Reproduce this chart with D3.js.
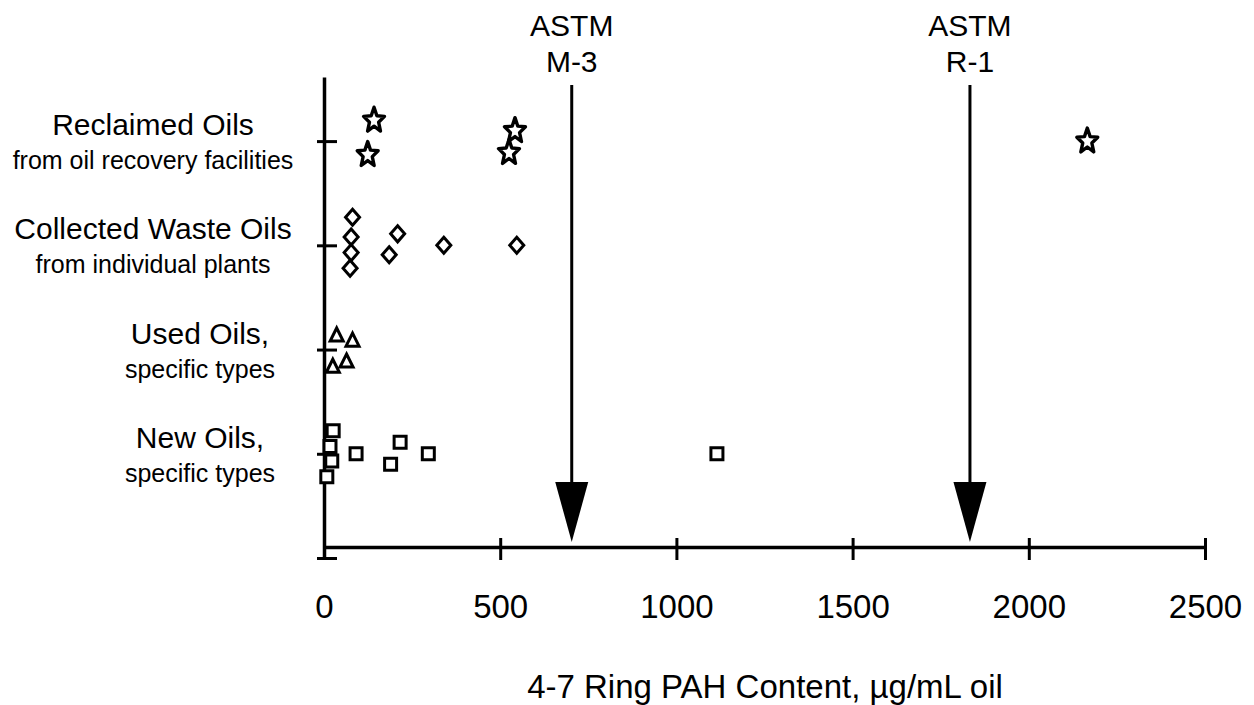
<!DOCTYPE html>
<html>
<head>
<meta charset="utf-8">
<script src="https://cdn.jsdelivr.net/npm/d3@7"></script>
<style>
body { margin: 0; background: #fff; }
text { font-family: "Liberation Sans", Arial, Helvetica, sans-serif; fill: #000; }
</style>
</head>
<body>
<div id="chart"></div>
<script>
// category rows (row 1 = bottom)
const groupRows  = [1, 2, 3, 4];
const groupNames = ["New Oils,", "Used Oils,", "Collected Waste Oils", "Reclaimed Oils"];
const groupNotes = ["specific types", "specific types", "from individual plants", "from oil recovery facilities"];

// PAH content (µg/mL) and row position of each sample
const newOilsPah    = [26, 17, 22, 8, 91, 216, 189, 296, 1115];
const newOilsRow    = [1.22, 1.07, 0.93, 0.78, 1.00, 1.11, 0.90, 1.00, 1.00];
const usedOilsPah   = [36, 81, 25, 64];
const usedOilsRow   = [2.14, 2.09, 1.84, 1.89];
const wasteOilsPah  = [81, 77, 77, 74, 209, 185, 340, 547];
const wasteOilsRow  = [3.27, 3.08, 2.93, 2.78, 3.11, 2.91, 3.00, 3.00];
const reclaimedPah  = [142, 124, 542, 525, 2166];
const reclaimedRow  = [4.21, 3.88, 4.11, 3.90, 4.01];

// ASTM reference levels
const astmNames  = ["M-3", "R-1"];
const astmValues = [703, 1833];

const xTicks = [0, 500, 1000, 1500, 2000, 2500];
const xTitle = "4-7 Ring PAH Content, µg/mL oil";

const width = 1254, height = 705;

let svg = d3.select('#chart').append('svg')
    .attr('width', width)
    .attr('height', height);

let x = d3.scaleLinear().domain([0, 2500]).range([324, 1205]);
let y = d3.scaleLinear().domain([0, 4.615]).range([558, 77]);

const axisY0 = 547;   // where the x axis sits

// custom marker shapes
const shapes = {
    square: { draw(ctx) { ctx.rect(-6, -6, 12, 12); } },
    diamond: { draw(ctx) {
        ctx.moveTo(0, -8); ctx.lineTo(7, 0); ctx.lineTo(0, 8); ctx.lineTo(-7, 0); ctx.closePath();
    } },
    triangle: { draw(ctx) {
        ctx.moveTo(0, -7); ctx.lineTo(6.5, 6); ctx.lineTo(-6.5, 6); ctx.closePath();
    } },
    star: { draw(ctx) {
        const R = 11, r = 4.8;
        for (let i = 0; i < 10; i++) {
            const a = -Math.PI / 2 + i * Math.PI / 5;
            const rr = i % 2 ? r : R;
            const px = rr * Math.cos(a), py = (rr * Math.sin(a) + 1) * 1.2;
            if (i === 0) ctx.moveTo(px, py); else ctx.lineTo(px, py);
        }
        ctx.closePath();
    } }
};

const series = [
    { pah: newOilsPah,   row: newOilsRow,   shape: 'square' },
    { pah: usedOilsPah,  row: usedOilsRow,  shape: 'triangle' },
    { pah: wasteOilsPah, row: wasteOilsRow, shape: 'diamond' },
    { pah: reclaimedPah, row: reclaimedRow, shape: 'star' }
];

// x axis
let xAxis = svg.append('g')
    .attr('transform', `translate(0,${axisY0})`)
    .call(d3.axisBottom(x).tickValues(xTicks).tickSizeOuter(0).tickFormat(d3.format('d')));
xAxis.select('.domain').attr('stroke', '#000').attr('stroke-width', 3.5);
xAxis.selectAll('.tick line').attr('stroke', '#000').attr('stroke-width', 3).attr('y1', -9).attr('y2', 13);
xAxis.selectAll('.tick text')
    .attr('y', 71).attr('dy', 0)
    .style('font-size', '33px')
    .style('font-family', '"Liberation Sans", Arial, sans-serif')
    .attr('fill', '#000');

// y axis
let yAxis = svg.append('g')
    .attr('transform', 'translate(324,0)')
    .call(d3.axisLeft(y).tickValues([0].concat(groupRows)).tickSizeOuter(0).tickFormat(''));
yAxis.select('.domain').attr('stroke', '#000').attr('stroke-width', 3.5);
yAxis.selectAll('.tick line').attr('stroke', '#000').attr('stroke-width', 3).attr('x1', -7).attr('x2', 13);

// category labels
const labelCenter = [200, 200, 153, 153];
let labels = svg.append('g').selectAll('g.label')
    .data(groupRows)
    .enter().append('g')
    .attr('class', 'label');
labels.append('text')
    .attr('x', (d, i) => labelCenter[i])
    .attr('y', d => y(d) - 6)
    .attr('text-anchor', 'middle')
    .style('font-size', '30px')
    .text((d, i) => groupNames[i]);
labels.append('text')
    .attr('x', (d, i) => labelCenter[i])
    .attr('y', d => y(d) + 28)
    .attr('text-anchor', 'middle')
    .style('font-size', '25px')
    .text((d, i) => groupNotes[i]);

// ASTM arrows
let arrows = svg.append('g').selectAll('g.astm')
    .data(astmValues)
    .enter().append('g')
    .attr('class', 'astm');
arrows.append('line')
    .attr('x1', d => x(d)).attr('x2', d => x(d))
    .attr('y1', 85).attr('y2', 486)
    .attr('stroke', '#000').attr('stroke-width', 3);
arrows.append('path')
    .attr('d', d => `M${x(d) - 16.5},482L${x(d) + 16.5},482L${x(d)},542Z`)
    .attr('fill', '#000');
let astmText = arrows.append('text')
    .attr('text-anchor', 'middle')
    .style('font-size', '30px');
astmText.append('tspan').attr('x', d => x(d)).attr('y', 36).text('ASTM');
astmText.append('tspan').attr('x', d => x(d)).attr('y', 72).text((d, i) => astmNames[i]);

// points
series.forEach(function (s) {
    svg.append('g').selectAll('path')
        .data(s.pah.map((v, i) => [v, s.row[i]]))
        .enter().append('path')
        .attr('d', d3.symbol().type(shapes[s.shape]))
        .attr('transform', d => `translate(${x(d[0])},${y(d[1])})`)
        .attr('fill', '#fff')
        .attr('stroke', '#000')
        .attr('stroke-width', s.shape === 'star' ? 3.4 : 3)
        .attr('stroke-linejoin', s.shape === 'star' ? 'round' : 'miter');
});

// axis title
svg.append('text')
    .attr('x', 765)
    .attr('y', 698)
    .attr('text-anchor', 'middle')
    .style('font-size', '33px')
    .text(xTitle);
</script>
</body>
</html>
